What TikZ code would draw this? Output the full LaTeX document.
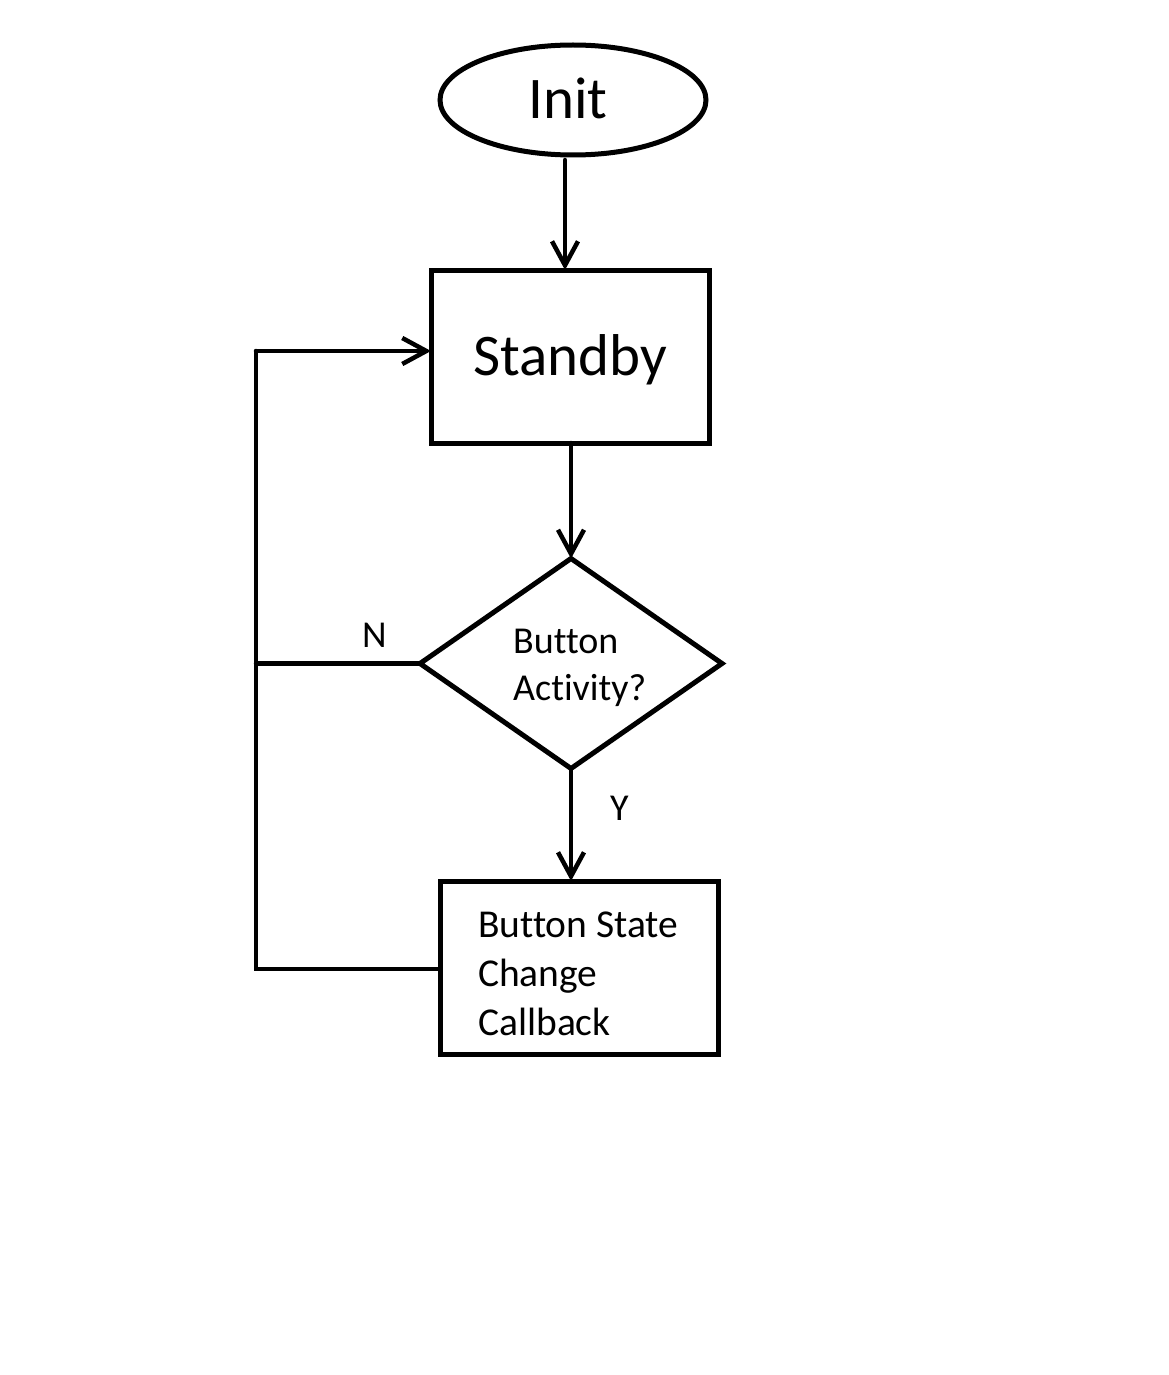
\documentclass[tikz,border=0pt]{standalone}
\usepackage{fontspec}
\setmainfont{Carlito}[Ligatures={NoCommon}]
\usetikzlibrary{shapes.geometric,arrows.meta}
\tikzset{
  shp/.style={draw=black, line width=5pt, inner sep=0pt, outer sep=0pt},
  big/.style={font=\fontsize{59}{70}\selectfont, text height=38pt, text depth=0pt},
  mid/.style={font=\fontsize{38}{47}\selectfont, inner sep=0pt, anchor=base west},
  conn/.style={line width=4.5pt, line cap=round, line join=miter},
  arr/.style={conn, -{Straight Barb[length=24pt,width=26pt,line width=4.5pt]}},
}
\begin{document}
\begin{tikzpicture}[x=1pt,y=-1pt]
\useasboundingbox (0,0) rectangle (1169,1375);
\fill[white] (0,0) rectangle (1169,1375);
% nodes
\node[shp, ellipse, minimum width=266pt, minimum height=110pt] (init) at (573,100) {};
\node[big, inner sep=0pt] (initT) at (568,100) {Init};
\node[shp, rectangle, minimum width=278pt, minimum height=173pt, big] (stand) at (570,356.5) {Standby};
\node[shp, diamond, aspect=1.438, minimum width=302pt, minimum height=210pt] (dec) at (571,663.5) {};
\node[mid] (decA) at (513,653) {Button};
\node[mid] (decB) at (513,700) {Activity?};
\node[shp, rectangle, minimum width=278pt, minimum height=173pt] (cb) at (579,967.5) {};
\node[mid, font=\fontsize{39.5}{49}\selectfont] (cbA) at (478,937) {Button State};
\node[mid, font=\fontsize{39.5}{49}\selectfont] (cbB) at (478,986) {Change};
\node[mid, font=\fontsize{39.5}{49}\selectfont] (cbC) at (478,1035) {Callback};
\node[mid] (lN) at (362,647) {N};
\node[mid] (lY) at (610,820) {Y};
% coordinates
\coordinate (lt) at (256,351);
\coordinate (lb) at (256,969);
\coordinate (nj) at (dec.west -| lt);
% connectors
\draw[arr] ([xshift=-8pt,yshift=-5pt]init.south) -- ([xshift=-8pt]init.south |- stand.north);
\draw[arr] (stand.south -| dec.north) -- (dec.north);
\draw[arr] (dec.south) -- (dec.south |- cb.north);
\draw[conn] (dec.west) -- (nj);
\draw[conn] (cb.west |- lb) -- (lb) -- (lt);
\draw[arr] (lt) -- (lt -| stand.west);
\end{tikzpicture}
\end{document}
